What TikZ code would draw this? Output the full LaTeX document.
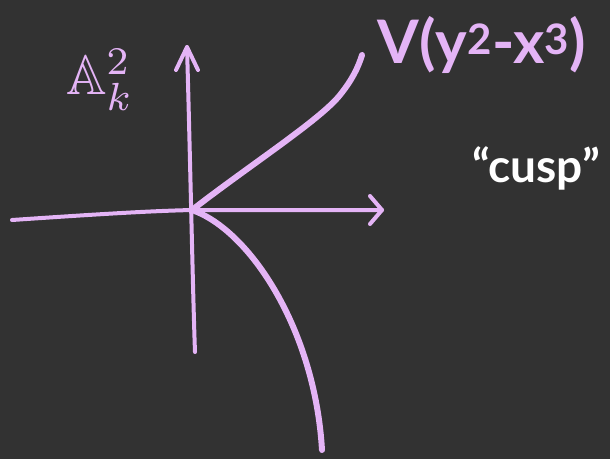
\documentclass[tikz,border=0pt]{standalone}
\usepackage{amssymb}
\usepackage{fontspec}
\setmainfont{Lato}
\definecolor{bg}{HTML}{323232}
\definecolor{pk}{HTML}{E4B4F6}
\tikzset{
  axis/.style={draw=pk,line width=4pt,line cap=round,line join=round},
  branch/.style={draw=pk,line width=6pt,line cap=round,line join=round},
  lbl/.style={text=pk,inner sep=0pt},
}
\begin{document}
\begin{tikzpicture}[x=1pt,y=-1pt]
\fill[bg] (0,0) rectangle (610,459);
\useasboundingbox (0,0) rectangle (610,459);
\coordinate (O) at (192,210);
\coordinate (L) at (12,220);
\coordinate (R) at (382,210);
\coordinate (T) at (187,47);
\coordinate (B) at (195,352);
\coordinate (U) at (362,55);
\coordinate (D) at (322,450);
% axes
\draw[axis] (L) .. controls (100,214) and (150,211) .. (O) -- (R);
\draw[axis] (370,196) -- (R) -- (370,224);
\draw[axis] (B) .. controls (193,300) and (190,150) .. (T);
\draw[axis] (176,70) -- (T) -- (198,70);
% branches
\draw[branch] (O) .. controls (250,165) and (320,120) .. (340,95) .. controls (352,80) and (358,68) .. (U);
\draw[branch] (O) .. controls (250,230) and (315,330) .. (D);
% labels
\node[lbl,scale=5.6] (A) at (100,80) {$\mathbb{A}^2_k$};
\node[lbl,font=\bfseries\fontsize{60}{60}\selectfont] (V) at (482,45) {V(y\textsuperscript{2}-x\textsuperscript{3})};
\node[text=white,inner sep=0pt,font=\bfseries\fontsize{46}{46}\selectfont] (C) at (536,168) {``cusp''};
\end{tikzpicture}
\end{document}
